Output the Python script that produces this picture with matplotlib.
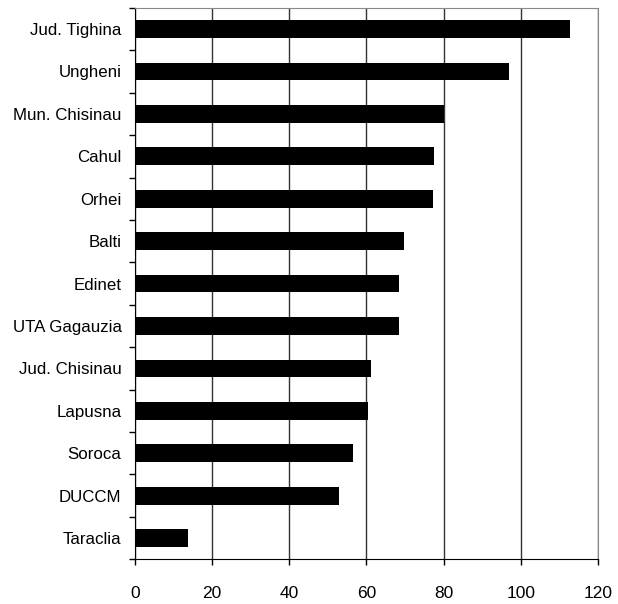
import matplotlib
matplotlib.use("Agg")
import matplotlib.pyplot as plt
import numpy as np

categories = ["Jud. Tighina", "Ungheni", "Mun. Chisinau", "Cahul", "Orhei", "Balti",
              "Edinet", "UTA Gagauzia", "Jud. Chisinau", "Lapusna", "Soroca", "DUCCM", "Taraclia"]
values = [112.7, 96.8, 80.1, 77.5, 77.1, 69.6, 68.3, 68.3, 61.2, 60.5, 56.4, 53.0, 13.7]
xticks = [0, 20, 40, 60, 80, 100, 120]

plt.rcParams['font.family'] = ['Liberation Sans', 'DejaVu Sans']

fig = plt.figure(figsize=(6.18, 6.04), dpi=100)
ax = fig.add_axes([0.218, 0.074, 0.750, 0.913])

n = len(categories)
ypos = np.arange(n)
ax.barh(ypos, values, height=0.42, color='black', zorder=3)
ax.set_ylim(n - 0.5, -0.5)
ax.set_xlim(0, 120)
ax.set_xticks(xticks)
ax.set_xticklabels([str(t) for t in xticks], fontsize=12.5)
ax.set_yticks(ypos)
ax.set_yticklabels(categories, fontsize=12.2)
ax.tick_params(axis='y', which='major', length=0, pad=9.5)
ax.set_yticks(np.arange(-0.5, n, 1.0), minor=True)
ax.tick_params(axis='y', which='minor', length=4, direction='out', width=1, color='black')
ax.tick_params(axis='x', which='major', length=4.3, direction='out', width=1, pad=15)
ax.xaxis.grid(True, color='#333333', linewidth=1, zorder=0)
for s in ['top', 'right']:
    ax.spines[s].set_color('#888888')
for s in ['left', 'bottom']:
    ax.spines[s].set_color('black')
fig.savefig("out.png", dpi=100)
